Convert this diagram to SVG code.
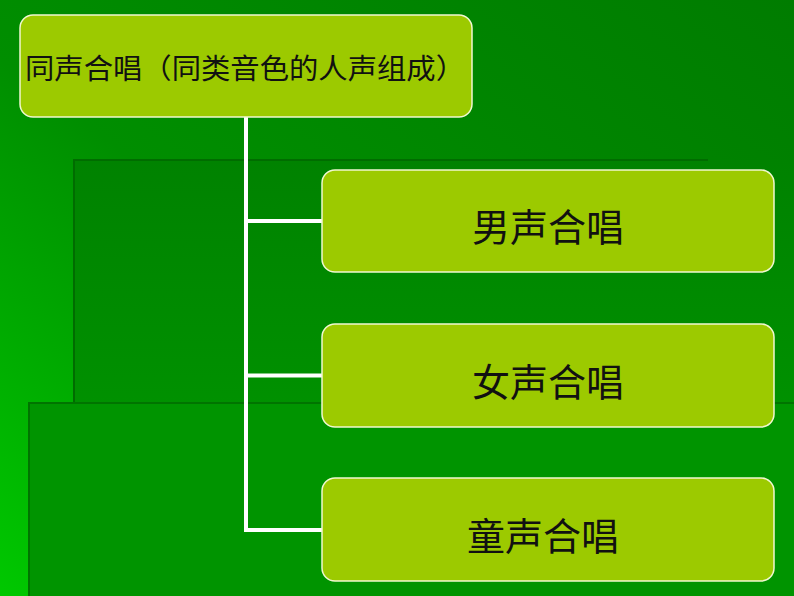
<svg xmlns="http://www.w3.org/2000/svg" width="794" height="596" viewBox="0 0 794 596">
<defs>
<linearGradient id="bg" x1="1" y1="0" x2="0" y2="1">
<stop offset="0" stop-color="#007c00"/>
<stop offset="0.55" stop-color="#008e00"/>
<stop offset="1" stop-color="#00c800"/>
</linearGradient>
<linearGradient id="r1" x1="0" y1="0" x2="0" y2="1">
<stop offset="0" stop-color="#008200"/>
<stop offset="1" stop-color="#009c00"/>
</linearGradient>
<style>
.box{fill:#9cca00;stroke:#f0f8d0;stroke-width:1.5}
.t{font-family:"Noto Sans CJK SC","Noto Sans",sans-serif;fill:#111}
.c{stroke:#ffffff;stroke-width:4;fill:none}
</style>
</defs>
<rect width="794" height="596" fill="url(#bg)"/>
<rect x="74" y="160" width="720" height="436" fill="url(#r1)"/>
<path d="M74 596 V160 H708" stroke="#006c00" stroke-width="2" fill="none"/>
<rect x="29" y="403" width="765" height="193" fill="#009400"/>
<path d="M29 596 V403 H794" stroke="#007400" stroke-width="2" fill="none"/>
<g id="connectors">
<path class="c" d="M246 117 V530 H322"/>
<path class="c" d="M246 221 H322"/>
<path class="c" d="M246 375.5 H322"/>
</g>
<g id="root">
<rect class="box" x="20" y="15" width="452" height="102" rx="13"/>
<text class="t" x="25" y="67" font-size="28" dominant-baseline="central" textLength="440" lengthAdjust="spacingAndGlyphs">同声合唱（同类音色的人声组成）</text>
</g>
<g id="male">
<rect class="box" x="322" y="170" width="452" height="102" rx="13"/>
<text class="t" x="548" y="224" font-size="38" text-anchor="middle" dominant-baseline="central">男声合唱</text>
</g>
<g id="female">
<rect class="box" x="322" y="324" width="452" height="103" rx="13"/>
<text class="t" x="548" y="379" font-size="38" text-anchor="middle" dominant-baseline="central">女声合唱</text>
</g>
<g id="children">
<rect class="box" x="322" y="478" width="452" height="103" rx="13"/>
<text class="t" x="543" y="533" font-size="38" text-anchor="middle" dominant-baseline="central">童声合唱</text>
</g>
</svg>
